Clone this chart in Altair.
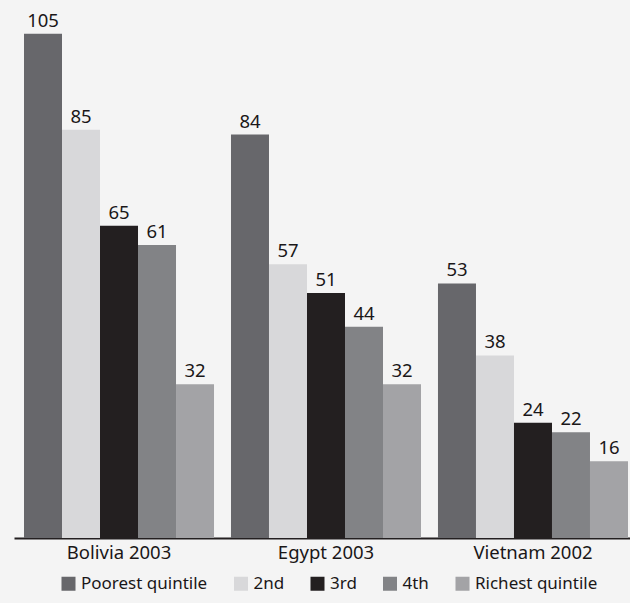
import altair as alt
import pandas as pd

countries = ["Bolivia 2003", "Egypt 2003", "Vietnam 2002"]
quintiles = ["Poorest quintile", "2nd", "3rd", "4th", "Richest quintile"]
bolivia = [105, 85, 65, 61, 32]
egypt = [84, 57, 51, 44, 32]
vietnam = [53, 38, 24, 22, 16]
colors = ["#67676b", "#d8d8da", "#231f20", "#828386", "#a3a3a6"]

rows = []
for country, vals in zip(countries, [bolivia, egypt, vietnam]):
    for q, v in zip(quintiles, vals):
        rows.append({"country": country, "quintile": q, "value": v})
df = pd.DataFrame(rows)

FONT = "Noto Sans"
INK = "#1a1718"

base = alt.Chart(df).encode(
    x=alt.X(
        "country:N",
        sort=countries,
        scale=alt.Scale(paddingInner=0.082, paddingOuter=0.029, align=0.833),
        axis=alt.Axis(
            title=None,
            labelAngle=0,
            ticks=False,
            grid=False,
            domainColor="#231f20",
            domainWidth=2,
            labelFontSize=18.5,
            labelFont=FONT,
            labelColor=INK,
            labelPadding=5,
        ),
    ),
    xOffset=alt.XOffset(
        "quintile:N", sort=quintiles, scale=alt.Scale(paddingInner=0, paddingOuter=0)
    ),
    y=alt.Y("value:Q", scale=alt.Scale(domain=[0, 112], nice=False), axis=None),
)

bars = base.mark_bar().encode(
    color=alt.Color(
        "quintile:N",
        sort=quintiles,
        scale=alt.Scale(domain=quintiles, range=colors),
        legend=alt.Legend(
            title=None,
            orient="none",
            direction="horizontal",
            legendX=46,
            legendY=575,
            symbolType="square",
            symbolSize=196,
            symbolStrokeWidth=0,
            symbolOpacity=1,
            labelFontSize=17,
            labelFont=FONT,
            labelColor=INK,
            labelOffset=4,
            columnPadding=24.5,
            padding=0,
        ),
    )
)

labels = base.mark_text(
    baseline="bottom", dy=-3, fontSize=18.5, font=FONT, color=INK
).encode(text="value:Q")

chart = (
    alt.layer(bars, labels)
    .properties(
        width=616,
        height=538,
        autosize=alt.AutoSizeParams(type="none"),
        padding={"left": 14, "top": 0, "right": 0, "bottom": 65},
        background="#f4f4f4",
    )
    .configure_view(stroke=None)
)

chart.save("out.html", embed_options={"renderer": "svg", "actions": False})
